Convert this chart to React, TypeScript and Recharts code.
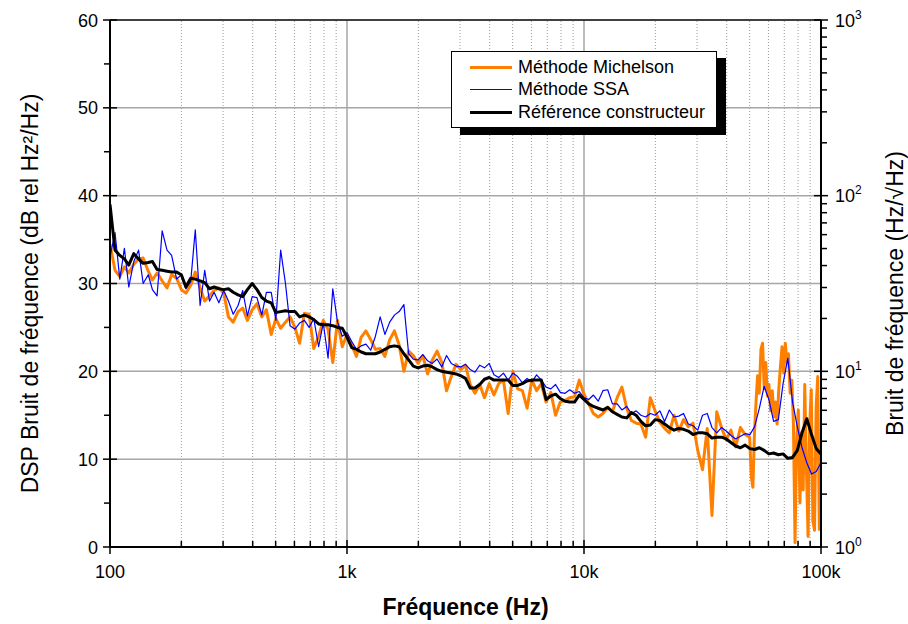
import { LineChart, Line, XAxis, YAxis, ReferenceLine, Legend } from "recharts"

// frequency grid (Hz), 50 points per decade
const freqs = [
  100, 105, 110, 115, 120, 126, 132, 138, 145, 151, 158, 166, 174, 182, 191, 200, 209, 219, 229, 240,
  251, 263, 275, 288, 302, 316, 331, 347, 363, 380, 398, 417, 437, 457, 479, 501, 525, 550, 575, 603,
  631, 661, 692, 724, 759, 794, 832, 871, 912, 955,
  1000, 1047, 1096, 1148, 1202, 1259, 1318, 1380, 1445, 1514, 1585, 1660, 1738, 1820, 1905, 1995, 2089, 2188, 2291, 2399,
  2512, 2630, 2754, 2884, 3020, 3162, 3311, 3467, 3631, 3802, 3981, 4169, 4365, 4571, 4786, 5012, 5248, 5495, 5754, 6026,
  6310, 6607, 6918, 7244, 7586, 7943, 8318, 8710, 9120, 9550,
  10000, 10470, 10960, 11480, 12020, 12590, 13180, 13800, 14450, 15140, 15850, 16600, 17380, 18200, 19050, 19950, 20890, 21880, 22910, 23990,
  25120, 26300, 27540, 28840, 30200, 31620, 33110, 34670, 36310, 38020, 39810, 41690, 43650, 45710, 47860, 50120, 52480, 54950, 57540, 60260,
  63100, 66070, 69180, 72440, 75860, 79430, 83180, 87100, 91200, 95500, 100000,
]

// DSP (dB rel Hz²/Hz) — Michelson on the common grid up to ~48 kHz
const michelson = [
  34.5, 31.5, 30.8, 31.9, 31.2, 32.2, 32.8, 32.9, 31.4, 30.4,
  31.2, 30.3, 29.5, 31.0, 30.6, 29.3, 28.9, 29.8, 31.3, 29.5,
  28.0, 28.6, 29.2, 29.5, 28.9, 26.2, 25.6, 26.8, 27.2, 25.8,
  27.0, 27.7, 26.2, 27.0, 24.2, 26.0, 24.9, 25.6, 26.2, 25.0,
  23.2, 26.6, 26.5, 22.6, 24.0, 25.8, 24.8, 21.0, 25.8, 22.8,
  24.2, 23.0, 21.7, 23.9, 24.6, 23.6, 22.5, 22.6, 21.7, 23.6,
  24.6, 23.0, 20.0, 22.3, 21.8, 20.9, 21.8, 19.7, 21.3, 22.3,
  21.0, 17.8, 19.4, 20.8, 20.2, 20.7, 18.5, 17.5, 18.5, 17.0,
  18.6, 17.3, 18.6, 19.0, 15.2, 20.0, 18.0, 17.8, 15.8, 19.0,
  17.8, 18.6, 16.5, 17.6, 15.0, 16.5, 16.7, 17.0, 17.1, 19.0,
  17.4, 16.3, 15.2, 14.8, 15.2, 15.9, 15.4, 17.0, 18.2, 15.8,
  14.4, 14.1, 14.0, 12.5, 17.0, 15.5, 14.2, 13.5, 13.0, 15.0,
  13.2, 14.5, 13.7, 14.1, 11.0, 8.8, 13.5, 3.6, 15.4, 13.6,
  12.2, 13.3, 11.4, 13.6, 12.8,
]

// Michelson, finer sampling of the noisy tail (50 kHz – 100 kHz)
const tailFreqs = [
  50000, 50800, 51600, 52400, 53200, 54000, 54900, 55800, 56700, 57600,
  58500, 59400, 60300, 61300, 62300, 63300, 64300, 65300, 66300, 67400,
  68500, 69600, 70700, 71800, 72900, 74100, 75300, 76500, 77700, 78900,
  80200, 81500, 82800, 84100, 85400, 86800, 88200, 89600, 91000, 92400,
  93900, 95400, 96900, 98400, 100000,
]
const michelsonTail = [
  12.5, 8.0, 6.8, 13.0, 16.5, 19.5, 17.5, 22.5, 23.2, 18.0,
  21.0, 17.2, 18.5, 15.5, 17.8, 14.8, 16.5, 14.0, 17.8, 20.5,
  22.8, 19.8, 23.2, 21.0, 22.0, 17.5, 19.0, 14.0, 0.5, 12.0,
  15.6, 5.0, 13.0, 6.5, 18.5, 9.0, 1.2, 14.0, 17.9, 3.0,
  1.9, 16.0, 19.4, 2.0, 12.0,
]

const ssa = [
  33.0, 35.8, 30.5, 34.0, 29.6, 32.5, 33.8, 30.0, 31.0, 29.3,
  28.6, 36.0, 33.8, 33.2, 30.5, 31.0, 29.4, 30.2, 36.1, 27.5,
  31.5, 28.0, 29.0, 27.8, 29.2, 28.0, 26.5, 27.5, 29.2, 26.3,
  28.5, 28.4, 26.4, 29.0, 29.0, 25.8, 33.8, 30.0, 25.2, 24.8,
  25.5, 25.8, 25.0, 26.0, 22.8, 25.5, 21.5, 29.4, 25.6, 24.0,
  24.4, 23.4, 22.5, 22.9, 23.1, 22.4, 24.0, 26.2, 24.2, 25.6,
  26.4, 26.8, 27.6, 22.0, 21.4, 21.3, 21.9, 21.2, 20.9, 21.4,
  20.5, 21.8, 20.9, 20.6, 20.5, 20.8, 20.2, 19.9, 20.7, 20.4,
  20.9, 19.6, 19.3, 19.8, 19.0, 19.8, 19.4, 18.7, 19.2, 18.8,
  19.6, 19.0, 18.2, 18.0, 18.5, 17.6, 17.5, 17.9, 17.5, 17.7,
  17.0, 16.8, 17.3, 16.6, 17.8, 17.9, 16.3, 16.3, 15.6, 16.0,
  15.2, 15.5, 15.0, 14.8, 15.2, 15.0, 15.5, 14.3, 15.6, 14.8,
  14.9, 15.2, 14.0, 13.8, 13.3, 15.0, 15.2, 13.6, 13.0, 13.6,
  13.2, 12.7, 12.3, 12.6, 12.9, 12.8, 13.7, 15.8, 18.3, 16.8,
  14.3, 14.5, 18.6, 21.5, 16.5, 13.7, 11.3, 9.6, 8.3, 8.6,
  9.6,
]

const reference = [
  39.0, 33.8, 33.2, 32.8, 32.1, 33.4, 32.8, 32.3, 32.4, 32.5,
  31.6, 31.5, 31.4, 31.3, 31.3, 31.0, 29.6, 30.6, 30.5, 30.3,
  30.1, 29.4, 29.6, 29.4, 29.3, 29.4, 29.0, 28.7, 28.5, 29.3,
  30.0, 29.3, 28.4, 28.0, 27.8, 26.7, 26.8, 26.9, 26.8, 26.8,
  26.2, 26.4, 26.2, 25.9, 25.4, 25.3, 25.3, 25.2, 25.0, 24.9,
  23.9, 22.7, 22.5, 22.2, 22.0, 22.0, 22.0, 22.2, 22.5, 22.8,
  22.9, 22.8, 22.0, 21.3, 20.6, 20.4, 20.6, 20.7, 20.5, 20.2,
  20.0, 19.9, 19.8, 19.7, 19.5, 19.2, 18.1, 18.1, 18.5, 19.1,
  19.3, 19.0, 19.0, 19.0, 19.0, 18.4, 18.4, 18.6, 18.9, 19.0,
  19.0, 19.0, 16.8, 17.2, 17.4, 16.9, 16.6, 16.5, 16.5, 17.3,
  16.8, 16.3, 16.0, 15.8, 15.6, 15.9, 15.4, 15.1, 14.8, 14.7,
  15.3, 15.0, 14.3, 13.8, 13.9, 14.5, 14.4, 14.0, 13.6, 13.3,
  13.5, 13.4, 13.2, 12.8, 13.0, 13.0, 12.9, 12.4, 12.5, 12.5,
  12.3, 11.9, 11.5, 11.3, 11.6, 11.2, 11.1, 11.3, 11.0, 10.6,
  10.7, 10.5, 10.6, 10.1, 10.2, 11.0, 13.0, 14.6, 12.8, 11.2,
  10.6,
]

const xMajor = [100, 1000, 10000, 100000]
const xMinor = [
  200, 300, 400, 500, 600, 700, 800, 900,
  2000, 3000, 4000, 5000, 6000, 7000, 8000, 9000,
  20000, 30000, 40000, 50000, 60000, 70000, 80000, 90000,
]
const xLabels: Record<number, string> = { 100: "100", 1000: "1k", 10000: "10k", 100000: "100k" }
const dbTicks = [0, 5, 10, 15, 20, 25, 30, 35, 40, 45, 50, 55, 60]
const dbGrid = [10, 20, 30, 40, 50]
const rightTicks = [
  1, 2, 3, 4, 5, 6, 7, 8, 9,
  10, 20, 30, 40, 50, 60, 70, 80, 90,
  100, 200, 300, 400, 500, 600, 700, 800, 900, 1000,
]
const rightExp: Record<number, string> = { 1: "0", 10: "1", 100: "2", 1000: "3" }

const series = [
  { key: "michelson", name: "Méthode Michelson", color: "#FF8000", width: 3 },
  { key: "ssa", name: "Méthode SSA", color: "#0000FF", width: 1.2 },
  { key: "reference", name: "Référence constructeur", color: "#000000", width: 3 },
]

const data = freqs.map((f, i) => ({
  f,
  ssa: ssa[i],
  reference: reference[i],
}))

const michelsonData = [
  ...michelson.map((v, i) => ({ f: freqs[i], michelson: v })),
  ...tailFreqs.map((f, i) => ({ f, michelson: michelsonTail[i] })),
]

const FONT = "'Liberation Sans', Arial, sans-serif"

function BottomTick({ x, y, payload }: any) {
  const v = payload.value
  const major = xMajor.includes(v)
  return (
    <g>
      <line x1={x} x2={x} y1={y - (major ? 7 : 6)} y2={major ? y + 7 : y} stroke="#000" strokeWidth={1.5} />
      {major && (
        <text x={x} y={y + 31} textAnchor="middle" fontSize={18} fill="#000" fontFamily={FONT}>
          {xLabels[v]}
        </text>
      )}
    </g>
  )
}

function LeftTick({ x, y, payload }: any) {
  const v = payload.value
  const major = v % 10 === 0
  return (
    <g>
      <line x1={x - (major ? 7 : 6)} x2={major ? x + 7 : x} y1={y} y2={y} stroke="#000" strokeWidth={1.5} />
      {major && (
        <text x={x - 12} y={y + 6.5} textAnchor="end" fontSize={18} fill="#000" fontFamily={FONT}>
          {v}
        </text>
      )}
    </g>
  )
}

function RightTick({ x, y, payload }: any) {
  const v = payload.value
  const exp = rightExp[v]
  const major = exp !== undefined
  return (
    <g>
      <line x1={major ? x - 7 : x} x2={x + (major ? 7 : 6)} y1={y} y2={y} stroke="#000" strokeWidth={1.5} />
      {major && (
        <text x={x + 14} y={y + 6.5} fontSize={18} fill="#000" fontFamily={FONT}>
          10
          <tspan dy={-8} fontSize={12}>
            {exp}
          </tspan>
        </text>
      )}
    </g>
  )
}

function LegendBox() {
  return (
    <div
      style={{
        border: "1.5px solid #000",
        background: "#fff",
        boxShadow: "9px 7px 0 #000",
        padding: "4px 0 3px 0",
        fontFamily: FONT,
        fontSize: 18,
        color: "#000",
      }}
    >
      {series.map((s) => (
        <div key={s.key} style={{ display: "flex", alignItems: "center", height: 22.5 }}>
          <div style={{ width: 42, height: s.width, background: s.color, marginLeft: 18, marginRight: 6 }} />
          <span>{s.name}</span>
        </div>
      ))}
    </div>
  )
}

export default function App() {
  return (
    <div style={{ width: 908, height: 624, fontFamily: FONT }}>
      <style>{"body{margin:0}"}</style>
      <LineChart width={908} height={624} data={data} margin={{ top: 20, right: 0, bottom: 0, left: 0 }}>
        {xMinor.map((v) => (
          <ReferenceLine key={"xm" + v} x={v} yAxisId="left" stroke="#9a9a9a" strokeDasharray="1 2" strokeWidth={1} zIndex={-50} />
        ))}
        {xMajor.slice(1, 3).map((v) => (
          <ReferenceLine key={"xM" + v} x={v} yAxisId="left" stroke="#a6a6a6" strokeWidth={1.5} zIndex={-50} />
        ))}
        {dbGrid.map((v) => (
          <ReferenceLine key={"yg" + v} y={v} yAxisId="left" stroke="#a6a6a6" strokeWidth={1.5} zIndex={-50} />
        ))}
        <ReferenceLine y={60} yAxisId="left" stroke="#000" strokeWidth={1.5} />
        <XAxis
          dataKey="f"
          type="number"
          scale="log"
          domain={[100, 100000]}
          allowDataOverflow
          ticks={[...xMajor, ...xMinor].sort((a, b) => a - b)}
          interval={0}
          tickSize={0}
          tickMargin={0}
          tickLine={false}
          tick={<BottomTick />}
          axisLine={{ stroke: "#000", strokeWidth: 2 }}
          height={77}
          label={(props: any) => {
            const vb = props.viewBox
            return (
              <text x={vb.x + vb.width / 2} y={vb.y + 68} textAnchor="middle" fontSize={23} fontWeight="bold" fill="#000" fontFamily={FONT}>
                Fréquence (Hz)
              </text>
            )
          }}
        />
        <YAxis
          yAxisId="left"
          type="number"
          domain={[0, 60]}
          ticks={dbTicks}
          interval={0}
          tickSize={0}
          tickMargin={0}
          tickLine={false}
          tick={<LeftTick />}
          axisLine={{ stroke: "#000", strokeWidth: 2 }}
          width={110}
          label={(props: any) => {
            const vb = props.viewBox
            const cx = vb.x + 30
            const cy = vb.y + vb.height / 2 + 10
            return (
              <text x={cx} y={cy} transform={`rotate(-90, ${cx}, ${cy})`} textAnchor="middle" dominantBaseline="central" fontSize={23} fill="#000" fontFamily={FONT}>
                DSP Bruit de fréquence (dB rel Hz²/Hz)
              </text>
            )
          }}
        />
        <YAxis
          yAxisId="right"
          orientation="right"
          type="number"
          scale="log"
          domain={[1, 1000]}
          allowDataOverflow
          ticks={rightTicks}
          interval={0}
          tickSize={0}
          tickMargin={0}
          tickLine={false}
          tick={<RightTick />}
          axisLine={{ stroke: "#000", strokeWidth: 2 }}
          width={87}
          label={(props: any) => {
            const vb = props.viewBox
            const cx = vb.x + 74
            const cy = vb.y + vb.height / 2 + 10
            return (
              <text x={cx} y={cy} transform={`rotate(-90, ${cx}, ${cy})`} textAnchor="middle" dominantBaseline="central" fontSize={23} fill="#000" fontFamily={FONT}>
                Bruit de fréquence (Hz/√Hz)
              </text>
            )
          }}
        />
        {series.map((s) => (
          <Line
            key={s.key}
            yAxisId="left"
            data={s.key === "michelson" ? michelsonData : undefined}
            dataKey={s.key}
            name={s.name}
            stroke={s.color}
            strokeWidth={s.width}
            dot={false}
            activeDot={false}
            strokeLinejoin="round"
            isAnimationActive={false}
          />
        ))}
        <Legend
          layout="vertical"
          align="center"
          verticalAlign="middle"
          content={() => <LegendBox />}
          wrapperStyle={{ left: 451, top: 51, width: 266, height: "auto" }}
        />
      </LineChart>
    </div>
  )
}
